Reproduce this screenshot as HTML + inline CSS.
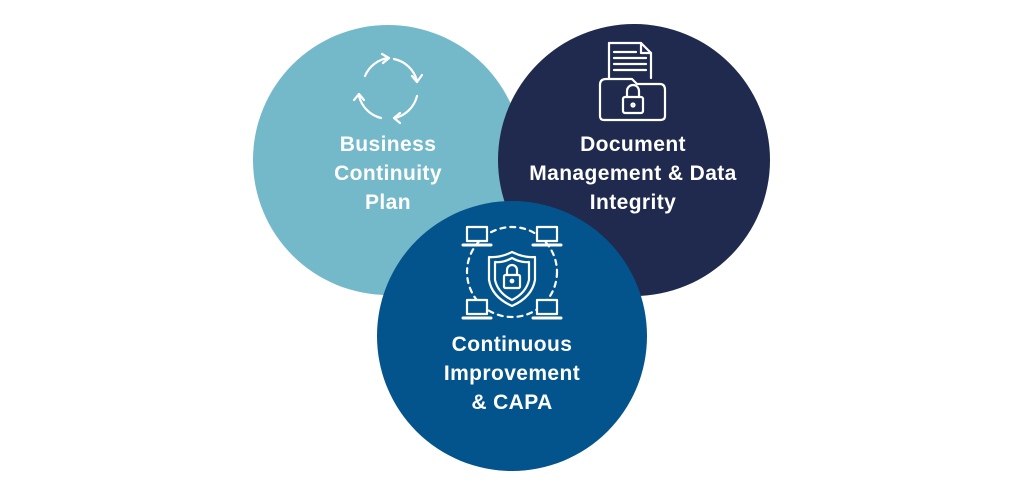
<!DOCTYPE html>
<html><head><style>
body{margin:0;background:#fff;width:1024px;height:492px;overflow:hidden;position:relative;font-family:"Liberation Sans",sans-serif}
.t{position:absolute;color:#fff;font-weight:bold;font-size:21px;letter-spacing:0.4px;line-height:29px;text-align:center;width:260px}
</style></head><body>
<svg width="1024" height="492" style="position:absolute;left:0;top:0">
<circle cx="388" cy="160" r="135" fill="#74b9c9"/>
<circle cx="634" cy="160" r="136" fill="#1f2a4e"/>
<circle cx="512" cy="336" r="135" fill="#03548c"/>
<g fill="none" stroke="#fff" stroke-width="2.2" stroke-linecap="round" stroke-linejoin="round">
<path d="M365 76 A30 30 0 0 1 388 58"/><path d="M394 59 A30 30 0 0 1 417 81"/>
<path d="M417 96 A30 30 0 0 1 395 118"/><path d="M381 118 A30 30 0 0 1 359 96"/>
<path d="M382 54 L389 58 L383 63"/><path d="M412 76 L417 82 L422 75"/>
<path d="M400 113 L394 118 L400 123"/><path d="M354 100 L359 94 L364 100"/>
<path d="M609 78 V43 H641 L651 53 V78"/><path d="M641 43 V53 H651"/>
<path d="M614 52 H636 M614 58 H646 M614 64 H646 M614 70 H646"/>
<path d="M600 85 Q600 79 606 79 H632 L637 84 H660 Q665 84 665 90 V116 Q665 120 660 120 H604 Q600 120 600 116 Z"/>
<rect x="623" y="97" width="20" height="16" rx="2"/><path d="M627 97 V91 A6 6 0 0 1 639 91 V97"/><circle cx="633" cy="105" r="1.5"/>
<circle cx="512" cy="272" r="45" stroke-dasharray="5 5"/>
<rect x="467" y="227" width="20" height="14" fill="#03548c"/><path d="M463 245 H491" stroke-width="3"/>
<rect x="537" y="227" width="20" height="14" fill="#03548c"/><path d="M533 245 H561" stroke-width="3"/>
<rect x="467" y="300" width="20" height="14" fill="#03548c"/><path d="M463 318 H491" stroke-width="3"/>
<rect x="537" y="300" width="20" height="14" fill="#03548c"/><path d="M533 318 H561" stroke-width="3"/>
<path d="M512 252 Q500 258 489 257 V280 Q492 297 512 306 Q532 297 535 280 V257 Q524 258 512 252 Z" fill="#03548c"/>
<path d="M512 258 Q503 263 495 262 V280 Q498 293 512 300 Q526 293 529 280 V262 Q521 263 512 258 Z"/>
<rect x="504" y="275" width="16" height="13" rx="1.5"/><path d="M507 275 V270 A5 5 0 0 1 517 270 V275"/><circle cx="512" cy="281" r="1.3"/>
</g>
</svg>
<div class="t" style="left:258px;top:130px">Business<br>Continuity<br>Plan</div>
<div class="t" style="left:493px;top:130px;width:280px">Document<br>Management &amp; Data<br>Integrity</div>
<div class="t" style="left:382px;top:330px">Continuous<br>Improvement<br>&amp; CAPA</div>
</body></html>
